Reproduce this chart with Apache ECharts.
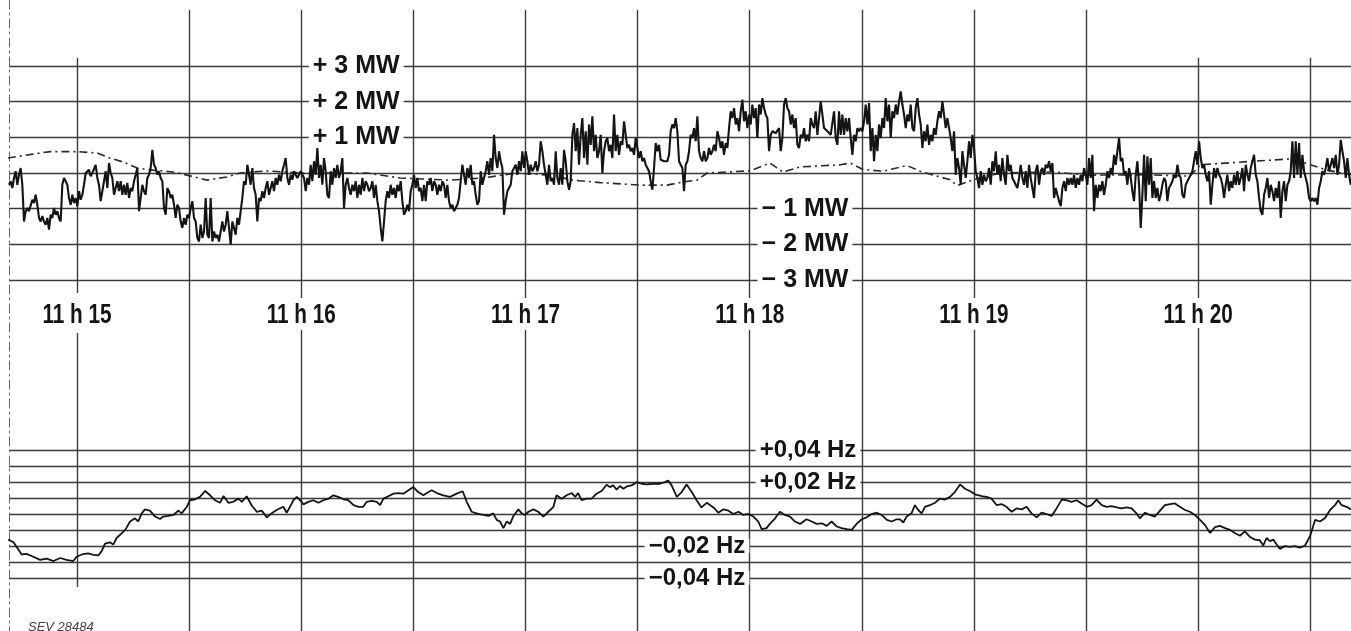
<!DOCTYPE html>
<html><head><meta charset="utf-8">
<script src="https://cdn.jsdelivr.net/npm/echarts@6/dist/echarts.min.js"></script>
<style>html,body{margin:0;padding:0;background:#fff}#c{width:1351px;height:631px}</style>
</head><body><div id="c"></div>
<script>
// ---- axis ranges / ticks (seconds after 11 h 15) ----
const T_MIN = -18.2, T_MAX = 340.9;
const minuteTimes = [0, 60, 120, 180, 240, 300];
const minuteLabels = ['11 h 15', '11 h 16', '11 h 17', '11 h 18', '11 h 19', '11 h 20'];
const halfMinuteTimes = [30, 90, 150, 210, 270, 330];
const mwLabelValues = [3, 2, 1, -1, -2, -3];
const mwLabelTexts = ['+ 3 MW', '+ 2 MW', '+ 1 MW', '\u2212 1 MW', '\u2212 2 MW', '\u2212 3 MW'];
const hzLabelValues = [0.04, 0.02, -0.02, -0.04];
const hzLabelTexts = ['+0,04 Hz', '+0,02 Hz', '\u22120,02 Hz', '\u22120,04 Hz'];

// ---- exchanged power deviation (MW), recorder samples ----
const powerStart = -18.2, powerStep = 0.446;
const powerMW = [
-0.33,-0.23,-0.42,-0.14,0.05,-0.33,-0.05,0.14,-0.33,-1.36,
-1.07,-0.98,-1.07,-1.12,-0.75,-0.84,-0.61,-0.89,-1.26,-1.36,
-1.21,-1.36,-1.45,-1.26,-1.59,-1.17,-1.26,-0.98,-1.17,-1.07,
-1.26,-1.36,-0.33,-0.14,-0.23,-0.33,-0.70,-0.89,-0.61,-0.84,
-0.70,-0.93,-0.51,-0.75,-0.61,-0.33,0,-0.05,0.09,-0.09,
0,-0.05,0.23,-0.14,-0.33,-0.79,-0.51,-0.23,0.05,-0.42,
0.28,0,-0.14,-0.61,-0.42,-0.23,-0.51,-0.23,-0.61,-0.33,
-0.61,-0.28,-0.70,-0.42,-0.51,-0.23,-0.05,0.14,-1.07,-0.70,
-0.33,-0.51,-0.61,-0.14,-0.05,0.14,0.65,0.23,0.14,-0.05,
0.05,-0.14,-0.23,-0.98,-1.17,-0.42,-0.51,-0.70,-0.61,-0.89,
-1.26,-0.89,-0.98,-1.36,-1.54,-1.26,-1.45,-1.17,-1.26,-0.98,
-0.79,-1.26,-1.36,-1.82,-1.92,-1.45,-1.82,-1.64,-0.70,-1.73,
-1.82,-0.70,-1.92,-1.64,-1.82,-1.73,-1.92,-1.92,-1.36,-1.64,
-1.45,-1.07,-1.54,-2.01,-1.36,-1.54,-1.73,-1.26,-1.45,-1.07,
-0.70,-0.23,-0.33,0.23,-0.05,-0.33,0.14,-0.42,-0.61,-1.36,
-0.70,-0.79,-0.51,-0.70,-0.42,-0.23,-0.61,
-0.42,-0.23,-0.51,-0.14,-0.33,-0.05,-0.23,0.05,0.23,0.42,
-0.14,-0.33,-0.05,-0.19,0.05,-0.05,-0.14,-0.05,0.05,0,
-0.14,-0.51,-0.14,-0.33,0.23,-0.23,0.33,-0.05,0.70,-0.14,
0.23,-0.33,0.42,0.05,-0.61,-0.70,0.05,-0.33,0.14,-0.14,
0.23,-0.14,0.05,0.42,-0.98,-0.33,-0.14,-0.42,-0.61,-0.33,
-0.51,-0.23,-0.70,-0.33,-0.61,-0.14,-0.51,-0.23,-0.33,-0.51,
-0.42,-0.23,-0.70,-0.33,-0.79,-1.07,-1.54,-1.92,-1.36,-0.79,
-0.51,-0.70,-0.33,-0.61,-0.42,-0.70,-0.33,-0.51,-0.23,-0.79,
-1.17,-1.07,-0.89,-1.07,-0.51,-0.33,-0.05,-0.42,-0.14,-0.51,
-0.42,-0.79,-0.33,-0.79,-0.23,-0.33,-0.14,-0.51,-0.23,-0.33,
-0.61,-0.33,-0.51,-0.23,-0.33,-0.70,-0.33,-0.79,-0.98,-0.89,
-1.07,-0.98,-0.89,-0.70,-0.23,0.23,-0.05,-0.33,0.14,-0.14,
0.23,-0.33,-0.23,-0.61,-0.89,-0.79,0.05,-0.33,-0.14,0.05,
0.33,-0.05,0.42,0.05,1.07,0.42,0.14,0.61,0.33,0.14,
-1.17,-0.79,-0.51,-0.42,-0.33,0.05,0.14,0.23,-0.05,0.33,
0.05,0.61,0.14,0.61,0.33,-0.05,0.23,0.05,0.14,0.33,
0.05,0.23,
0.89,0.61,0.23,-0.05,-0.33,0.23,-0.23,-0.14,-0.33,0.61,
-0.14,-0.33,0.14,-0.33,0.65,0.33,-0.23,-0.47,-0.23,1.07,
1.40,0.61,1.26,0.23,1.07,1.54,0.42,1.17,0.23,1.36,
0.79,1.59,0.61,1.07,0.42,0.61,1.07,0,0.61,0.89,
0.98,0.61,0.79,0.42,1.64,0.61,1.07,0.51,0.89,0.79,
1.45,1.07,0.70,0.79,0.61,0.70,0.51,0.98,0.70,0.42,
0.61,0.33,0.42,0.23,0.14,0.05,-0.23,-0.47,0.14,0.84,
0.61,0.79,0.37,0.37,0.33,0.37,0.33,0.51,1.17,1.36,
1.26,1.54,1.17,0.33,0.23,0.14,-0.51,0.23,0.33,0.61,
1.07,0.98,1.26,0.89,1.59,0.61,0.42,0.33,0.61,0.33,
0.42,0.70,0.51,0.61,0.79,0.61,1.17,0.98,0.70,0.89,
0.51,0.84,0.70,1.26,1.73,1.54,1.82,1.36,1.54,1.17,
1.73,2.06,1.45,1.73,1.26,1.64,1.36,1.92,1.54,1.82,
0.98,1.92,1.64,2.10,1.82,1.64,1.54,0.61,1.07,1.17,
1.17,1.12,1.17,1.26,0.61,0.98,1.92,2.10,1.82,1.73,
1.36,1.64,1.26,1.54,0.79,0.70,1.07,0.98,1.26,0.89,
1.07,0.89,
1.54,1.36,1.26,1.73,1.07,1.07,2.01,1.64,1.26,1.21,
1.17,1.12,1.07,1.07,1.73,0.98,0.79,1.73,1.07,1.64,
1.07,1.54,1.17,1.54,0.98,0.51,1.07,0.89,1.26,1.17,
1.26,1.17,1.45,1.92,1.36,1.96,0.61,1.26,0.33,1.07,
0.61,1.36,0.98,1.54,1.26,2.10,1.45,1.92,0.98,1.73,
1.54,1.92,1.64,2.01,2.29,1.92,1.64,1.26,1.64,1.45,
1.92,1.26,1.17,1.82,2.10,1.64,1.36,0.70,1.17,0.89,
1.36,0.79,1.07,0.89,1.26,1.07,1.45,1.73,1.54,2.01,
1.64,1.26,1.54,1.26,0.98,0.61,1.17,-0.05,0.42,0.14,
-0.33,0.61,0.23,-0.14,0.33,0.89,0.42,1.07,0.70,0.05,
-0.14,-0.42,0.05,-0.33,-0.05,-0.23,-0.14,0.14,-0.33,0.33,
0.05,0.61,-0.05,0.23,-0.23,0.42,-0.05,-0.33,0.51,0.05,
0.23,-0.14,-0.23,-0.33,-0.42,-0.14,0.23,-0.14,-0.33,0.05,
-0.42,0.23,-0.14,-0.42,-0.70,0.05,0.23,-0.33,0.05,0.14,
-0.05,0.23,0.14,0.33,0.05,0.28,-0.70,-0.42,-0.61,-0.79,
-0.93,-0.42,-0.23,-0.51,-0.14,-0.33,-0.14,-0.33,-0.05,-0.42,
-0.14,-0.33,
-0.05,-0.23,0.14,-0.05,-0.33,0.42,-0.14,0.51,-1.07,-0.33,
-0.70,-0.33,-0.51,-0.23,-0.61,-0.33,0.05,-0.14,0.14,-0.05,
0.51,0.23,0.61,0.98,0.33,0.42,-0.05,0.05,-0.33,0.14,
-0.14,-0.51,-0.79,-0.05,0.33,-0.33,-1.54,-0.61,0.51,-0.79,
0.47,-0.33,0.42,-0.70,-0.23,-0.70,-0.42,-0.79,-0.61,-0.33,
-0.14,-0.23,-0.79,-0.42,-0.33,-0.23,-0.05,-0.14,0.23,-0.05,
-0.14,-0.61,-0.70,-0.33,-0.23,-0.14,-0.05,0.05,0.33,0.61,
0.23,0.89,0.42,0.14,0.23,-0.05,-0.23,0.05,-0.89,-0.33,
0.14,-0.14,0.14,-0.05,-0.14,-0.33,-0.70,-0.33,-0.05,-0.51,
-0.23,-0.42,-0.05,-0.33,0.05,-0.33,-0.14,0.14,-0.51,0.23,
-0.05,-0.23,0.14,0.33,0.51,-0.05,-0.23,-0.70,-1.07,-1.17,
-0.61,-0.42,-0.14,-0.70,-0.33,-0.51,-0.79,-0.42,-0.70,-0.23,
-1.26,-0.51,-0.23,-0.79,-0.33,-0.23,0.05,0.89,-0.14,0.89,
-0.05,0.84,-0.14,0.51,0.05,-0.14,-0.33,-0.70,-0.79,-0.70,
-0.79,-0.70,-0.89,-0.42,-0.23,0.05,-0.05,0.14,0.42,0.05,
0.23,0.42,0.14,0.51,-0.05,0.23,0.93,0.61,0.33,-0.14,
0.42,-0.05,-0.33
];

// ---- dash-dot reference line (MW) ----
const refTime = [-18.5,-11.8,-7.2,0,5.4,8.8,12.3,16.1,20.3,25.7,29.4,34.8,40.1,43.6,50.8,59.7,77.6,86.4,99.8,108.6,117.7,126.6,132.7,140.0,150.7,157.9,162.2,165.9,168.6,180.1,185.4,188.9,193.5,204.2,206.9,210.3,215.7,222.1,225.6,233.6,235.5,239.8,247.0,261.2,270.3,287.1,297.8,300.6,314.7,325.4,330.0,334.5,340.9];
const refMW = [0.42,0.53,0.60,0.60,0.56,0.42,0.31,0.14,0.08,0.03,-0.06,-0.20,-0.11,0,0.06,0,0,-0.14,-0.20,-0.14,0,-0.06,-0.20,-0.27,-0.34,-0.34,-0.25,-0.20,0,0.06,0.28,0.03,0.17,0.23,0.28,0.10,0.05,0.21,0.05,-0.19,-0.35,-0.19,0,0.03,-0.06,-0.05,-0.09,0.23,0.33,0.40,0.23,0.08,-0.05];

// ---- frequency deviation (Hz) ----
const freqTime = [
-18.4,-17.0,-15.7,-14.8,-13.5,-11.7,-9.9,-8.1,-6.3,-4.5,-2.8,-1.0,-0.1,1.3,3.0,4.4,5.7,6.6,7.5,8.8,
9.7,10.6,12.0,12.9,14.2,15.5,16.4,17.3,18.2,19.5,20.9,22.2,23.1,24.4,25.8,27.1,28.0,29.4,30.2,31.6,
32.9,34.3,35.6,36.9,38.3,39.2,40.5,41.8,43.2,44.1,45.4,46.7,48.1,49.4,50.8,52.1,53.4,55.2,56.1,57.0,
57.9,58.8,59.7,60.6,61.9,63.2,64.6,65.9,67.3,68.6,69.9,71.3,72.6,74.0,75.3,76.6,77.5,78.9,80.2,81.1,
82.0,83.3,84.7,86.0,87.3,88.7,90.0,91.3,92.7,93.6,94.9,96.3,98.0,
99.8,101.6,103.2,104.3,105.6,106.9,108.7,110.1,111.4,112.3,113.2,114.1,115.0,115.9,116.7,118.1,119.0,119.9,120.8,122.1,
123.4,124.8,126.1,127.5,128.3,129.7,131.0,132.4,133.3,134.1,135.0,136.4,137.7,139.0,140.4,141.7,142.6,143.5,144.4,145.3,
146.2,147.1,148.4,149.8,151.1,152.4,154.2,156.0,157.3,158.2,159.1,160.5,161.8,163.1,164.5,165.8,167.1,168.5,170.3,171.6,
173.0,174.3,175.6,177.0,178.3,179.6,181.0,182.3,183.2,184.5,185.4,186.8,188.1,189.4,190.8,192.1,193.5,195.2,196.6,197.9,
199.3,200.6,201.9,203.3,204.6,206.0,207.3,208.6,210.0,211.3,212.6,214.0,215.3,216.7,218.0,219.3,
220.2,221.1,222.0,223.3,224.2,225.1,226.0,226.9,228.2,229.6,230.9,232.2,233.6,234.9,236.3,237.6,238.9,240.3,242.1,243.4,
244.7,246.1,247.4,248.7,250.1,251.4,252.8,254.1,255.4,256.8,258.1,259.4,260.8,262.1,263.5,264.8,266.1,267.5,268.8,270.2,
271.5,272.8,274.2,275.5,276.8,278.2,279.5,280.9,282.2,283.5,284.4,285.8,287.1,288.4,289.8,291.1,292.5,293.8,295.1,296.5,
297.8,299.1,300.5,301.8,303.2,304.5,305.8,307.2,308.5,309.8,311.2,312.5,313.9,315.2,316.5,317.4,318.3,319.2,320.1,321.0,
321.9,323.2,324.6,325.9,327.2,328.6,329.9,331.3,332.6,333.9,335.3,336.6,337.5,338.4,339.7,340.9
];
const freqHz = [
-0.0160,-0.0177,-0.0222,-0.0253,-0.0249,-0.0267,-0.0287,-0.0279,-0.0294,-0.0275,
-0.0287,-0.0294,-0.0267,-0.0253,-0.0246,-0.0255,-0.0259,-0.0232,-0.0185,-0.0177,
-0.0191,-0.0150,-0.0119,-0.0099,-0.0047,-0.0027,-0.0047,0.0004,0.0029,0.0021,
-0.0016,-0.0031,-0.0016,-0.0012,-0.0006,0.0021,0.0004,0.0045,0.0086,0.0092,
0.0107,0.0144,0.0117,0.0086,0.0070,0.0113,0.0070,0.0076,0.0096,0.0076,
0.0111,0.0055,0.0014,0.0021,-0.0021,0.0004,0.0025,0.0045,0.0008,0.0045,
0.0086,0.0107,0.0086,0.0060,0.0076,0.0086,0.0070,0.0086,0.0096,0.0117,
0.0107,0.0092,0.0086,0.0055,0.0045,0.0045,0.0076,0.0082,0.0076,0.0055,
0.0096,0.0111,0.0127,0.0131,0.0127,0.0148,0.0168,0.0137,0.0117,0.0131,
0.0148,0.0131,0.0117,
0.0107,0.0127,0.0142,0.0076,0.0014,0.0004,-0.0006,-0.0012,0.0004,-0.0037,
-0.0047,-0.0088,-0.0047,-0.0062,-0.0016,0.0029,0.0004,-0.0006,0.0014,0.0029,
0.0014,-0.0016,0.0014,0.0045,0.0117,0.0096,0.0117,0.0131,0.0107,0.0131,
0.0086,0.0096,0.0096,0.0127,0.0144,0.0183,0.0168,0.0179,0.0152,0.0175,
0.0158,0.0172,0.0179,0.0199,0.0189,0.0185,0.0189,0.0189,0.0199,0.0209,
0.0179,0.0107,0.0137,0.0185,0.0137,0.0086,0.0041,0.0070,0.0041,0.0008,
0.0029,0.0021,0,0.0014,-0.0006,0,-0.0016,-0.0047,-0.0095,-0.0088,
-0.0062,-0.0027,0.0014,-0.0006,-0.0016,-0.0047,-0.0062,-0.0033,-0.0047,-0.0062,
-0.0058,-0.0074,-0.0047,-0.0078,-0.0088,-0.0095,-0.0099,-0.0062,-0.0033,-0.0021,
0,0.0008,-0.0006,-0.0037,-0.0047,-0.0033,
-0.0033,-0.0053,-0.0016,0.0004,0.0055,0.0025,0.0004,0.0045,0.0055,0.0070,
0.0096,0.0090,0.0107,0.0137,0.0185,0.0158,0.0144,0.0123,0.0111,0.0107,
0.0096,0.0055,0.0062,0.0045,0.0014,0.0035,0.0029,0.0045,0.0004,-0.0021,
0.0008,0,-0.0012,0.0035,0.0090,0.0086,0.0076,0.0086,0.0066,0.0045,
0.0055,0.0090,0.0055,0.0045,0.0049,0.0041,0.0035,0.0041,0.0035,0.0004,
-0.0027,0.0008,-0.0006,-0.0016,0.0021,0.0055,0.0062,0.0066,0.0045,0.0025,
0.0014,-0.0006,-0.0037,-0.0068,-0.0119,-0.0082,-0.0074,-0.0088,-0.0099,-0.0119,
-0.0136,-0.0109,-0.0144,-0.0160,-0.0164,-0.0197,-0.0150,-0.0170,-0.0160,-0.0191,
-0.0218,-0.0201,-0.0205,-0.0201,-0.0211,-0.0197,-0.0140,-0.0037,-0.0047,-0.0027,
0.0025,0.0055,0.0086,0.0055,0.0045,0.0029
];

// ---------------- build ----------------
const INK = '#141414', GRIDC = '#3a3a3a';
const powerData = powerMW.map((v, i) => [powerStart + i * powerStep, v]);
const refData = refTime.map((t, i) => [t, refMW[i]]);
const freqData = freqTime.map((t, i) => [t, freqHz[i]]);

// vertical ruling segments on the frame (frame y units 0..631, top-down)
const segs = [];
minuteTimes.forEach((t, i) => {
  if (i === 0) { segs.push([[t, 58], [t, 293]]); segs.push([[t, 333], [t, 587]]); }
  else if (i === minuteTimes.length - 1) { segs.push([[t, 58], [t, 298]]); segs.push([[t, 328], [t, 631]]); }
  else { segs.push([[t, 10], [t, 298]]); segs.push([[t, 330], [t, 631]]); }
});
halfMinuteTimes.forEach((t, i) => {
  segs.push([[t, i === halfMinuteTimes.length - 1 ? 58 : 10], [t, 631]]);
});

const boldFont = "'Liberation Sans', Arial, sans-serif";
const xCommon = { type: 'value', min: T_MIN, max: T_MAX, show: false };
const yHidden = { axisLabel: { show: false }, axisTick: { show: false }, axisLine: { show: false } };

const chart = echarts.init(document.getElementById('c'), null, { renderer: 'canvas' });
chart.setOption({
  animation: false,
  backgroundColor: '#fff',
  grid: [
    { left: 9, right: 0, top: 66, height: 214 },
    { left: 9, right: 0, top: 450, height: 128 },
    { left: 9, right: 0, top: 0, bottom: 0 }
  ],
  xAxis: [
    Object.assign({ gridIndex: 0 }, xCommon),
    Object.assign({ gridIndex: 1 }, xCommon),
    Object.assign({ gridIndex: 2 }, xCommon)
  ],
  yAxis: [
    Object.assign({ gridIndex: 0, type: 'value', min: -3, max: 3, interval: 1,
      splitLine: { show: true, lineStyle: { color: GRIDC, width: 1.4 } } }, yHidden),
    Object.assign({ gridIndex: 1, type: 'value', min: -0.04, max: 0.04, interval: 0.01,
      splitLine: { show: true, lineStyle: { color: GRIDC, width: 1.4 } } }, yHidden),
    { gridIndex: 2, type: 'value', min: 0, max: 631, inverse: true,
      axisLabel: { show: false }, axisTick: { show: false }, splitLine: { show: false },
      axisLine: { show: true, onZero: false, lineStyle: { color: '#666', width: 1, type: [9, 4, 2, 4] } } }
  ],
  series: [
    { type: 'lines', coordinateSystem: 'cartesian2d', xAxisIndex: 2, yAxisIndex: 2, z: 1,
      polyline: false, silent: true,
      lineStyle: { color: GRIDC, width: 1.4, opacity: 1 },
      data: segs.map(c => ({ coords: c })) },
    { type: 'scatter', xAxisIndex: 0, yAxisIndex: 0, z: 3, symbolSize: 0, silent: true,
      itemStyle: { opacity: 1 },
      data: mwLabelValues.map(v => [v > 0 ? 74.7 : 194.8, v]),
      label: { show: true, position: 'inside', formatter: p => mwLabelTexts[p.dataIndex],
        fontFamily: boldFont, fontWeight: 'bold', fontSize: 25, color: INK, opacity: 1,
        backgroundColor: '#fff', padding: [0, 4], lineHeight: 22 } },
    { type: 'scatter', xAxisIndex: 1, yAxisIndex: 1, z: 3, symbolSize: 0, silent: true,
      itemStyle: { opacity: 1 },
      data: hzLabelValues.map(v => [v > 0 ? 195.6 : 165.9, v]),
      label: { show: true, position: 'inside', formatter: p => hzLabelTexts[p.dataIndex],
        fontFamily: boldFont, fontWeight: 'bold', fontSize: 24, color: INK, opacity: 1,
        backgroundColor: '#fff', padding: [0, 4], lineHeight: 14 } },
    { type: 'line', xAxisIndex: 0, yAxisIndex: 0, z: 4, showSymbol: false, silent: true,
      data: refData, lineStyle: { color: '#2a2a2a', width: 1.6, type: [8, 4, 2, 4] } },
    { type: 'line', xAxisIndex: 0, yAxisIndex: 0, z: 5, showSymbol: false, silent: true,
      sampling: null, data: powerData, lineStyle: { color: INK, width: 2.1 } },
    { type: 'line', xAxisIndex: 1, yAxisIndex: 1, z: 5, showSymbol: false, silent: true,
      data: freqData, lineStyle: { color: INK, width: 1.8 } }
  ]
});

// time labels: condensed bold text placed at the minute positions of the frame axis
const timeGraphics = minuteTimes.map((t, i) => {
  const p = chart.convertToPixel({ gridIndex: 2 }, [t, 315]);
  return { type: 'text', x: p[0], y: p[1], scaleX: 0.74, silent: true,
    style: { text: minuteLabels[i], font: "bold 28px 'Liberation Sans', Arial, sans-serif",
      fill: INK, align: 'center', verticalAlign: 'middle' } };
});
timeGraphics.push({ type: 'text', left: 28, top: 621, silent: true,
  style: { text: 'SEV 28484', font: "italic 13px 'Liberation Sans', Arial, sans-serif", fill: '#444' } });
chart.setOption({ graphic: timeGraphics });
</script>
</body></html>
